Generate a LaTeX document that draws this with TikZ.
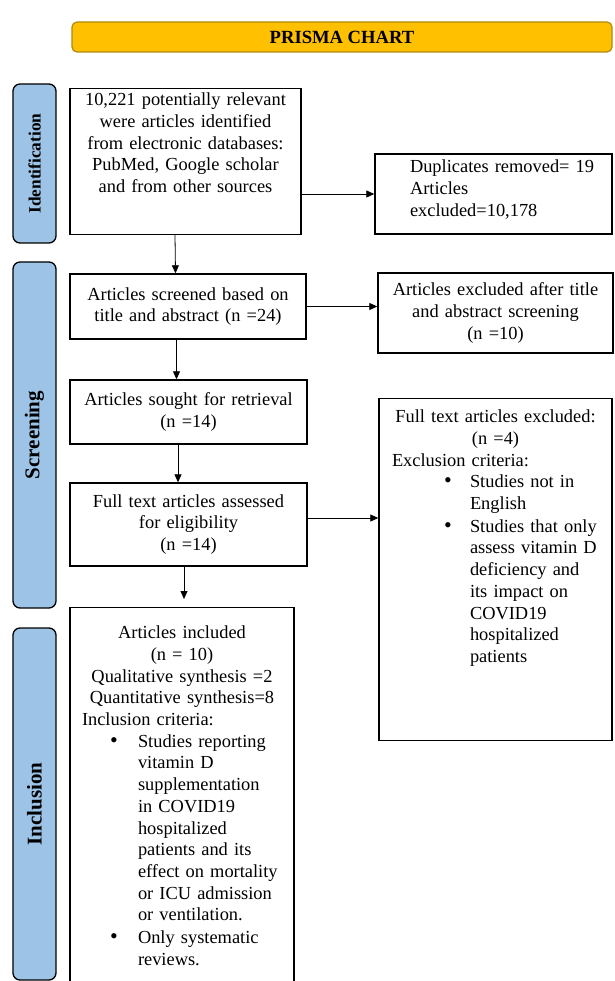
\documentclass[tikz,border=0pt]{standalone}
\usepackage{fontspec}
\setmainfont{Liberation Serif}
\usetikzlibrary{arrows.meta}
\definecolor{prismagold}{HTML}{FFC000}
\definecolor{prismaedge}{HTML}{B08A10}
\definecolor{stageblue}{HTML}{9DC3E6}
\newcommand{\bitem}[3]{\hspace*{#1}\makebox[#2][l]{\fontsize{22}{22}\selectfont\textbullet}\begin{tabular}[t]{@{}l@{}}#3\end{tabular}}

\begin{document}
\begin{tikzpicture}[x=1pt, y=-1pt,
	every node/.style={font=\fontsize{18.4}{21.7}\selectfont},
	stage/.style={draw=black, line width=1.3pt, fill=stageblue, rounded corners=7pt, rotate=90, minimum height=43pt, inner sep=0pt, font=\bfseries\fontsize{21}{24}\selectfont},
	flowbox/.style={draw=black, line width=1.4pt, align=center, inner xsep=4pt, inner ysep=3pt},
	arr/.style={-{Triangle[length=8pt,width=7pt]}, line width=0.8pt}]
	\useasboundingbox (0,0) rectangle (614,981);
	\node [draw=prismaedge, line width=1.2pt, fill=prismagold, rounded corners=5pt, minimum width=540pt, minimum height=30pt, font=\bfseries\fontsize{18.6}{22}\selectfont] (header) at (342,37) {PRISMA CHART};
	\node [stage, minimum width=159pt, font=\bfseries\fontsize{17.3}{20}\selectfont] (ident) at (34.5,163.5) {Identification};
	\node [stage, minimum width=346pt] (screen) at (34.5,435) {Screening};
	\node [stage, minimum width=352pt] (incl) at (34.5,804) {Inclusion};
	\node [flowbox, text width=223pt, anchor=north] (found) at (185.5,88) {\rule{0pt}{14pt}10,221 potentially relevant\\were articles identified\\from electronic databases:\\PubMed, Google scholar\\and from other sources\rule[-39pt]{0pt}{39pt}};
	\node [flowbox, align=left, text width=229pt, minimum height=80pt] (dupes) at (493.5,194) {\leftskip=31pt Duplicates removed= 19\\Articles\\excluded=10,178\rule[-12pt]{0pt}{12pt}\par};
	\node [flowbox, text width=228pt, minimum height=65pt] (screened) at (188,306.5) {Articles screened based on\\title and abstract (n =24)};
	\node [flowbox, text width=227pt, minimum height=80pt] (titleout) at (495.5,313) {Articles excluded after title\\and abstract screening\\(n =10)};
	\node [flowbox, text width=229pt, minimum height=64pt] (sought) at (188.5,412) {Articles sought for retrieval\\(n =14)};
	\node [flowbox, text width=229pt, minimum height=83pt] (assessed) at (188.5,524.5) {Full text articles assessed\\for eligibility\\(n =14)};
	\node [flowbox, align=left, text width=225pt, anchor=north] (fullout) at (495.5,398) {{\centering\rule{0pt}{21pt}Full text articles excluded:\\(n =4)\par}\hspace*{9pt}Exclusion criteria:\\\bitem{61pt}{26pt}{Studies not in\\English}\\\bitem{61pt}{26pt}{Studies that only\\assess vitamin D\\deficiency and\\its impact on\\COVID19\\hospitalized\\patients}\rule[-205pt]{0pt}{205pt}};
	\node [flowbox, align=left, text width=216pt, anchor=north] (included) at (182,607) {{\centering\rule{0pt}{28pt}Articles included\\(n = 10)\\Qualitative synthesis =2\\Quantitative synthesis=8\par}\hspace*{8pt}Inclusion criteria:\\\bitem{36pt}{28pt}{Studies reporting\\vitamin D\\supplementation\\in COVID19\\hospitalized\\patients and its\\effect on mortality\\or ICU admission\\or ventilation.}\\\bitem{36pt}{28pt}{Only systematic\\reviews.}\rule[-50pt]{0pt}{50pt}};
	\draw [arr] ([xshift=-10.5pt]found.south) -- ([xshift=-12.5pt]screened.north);
	\draw [arr] ([xshift=-11.5pt]screened.south) -- ([xshift=-12pt]sought.north);
	\draw [arr] ([xshift=-10.5pt]sought.south) -- ([xshift=-10.5pt]assessed.north);
	\draw [arr, shorten >=8pt] ([xshift=-4.5pt]assessed.south) -- ([xshift=2pt]included.north);
	\draw [arr] (found.east |- dupes.west) -- (dupes.west);
	\draw [arr] (screened.east) -- (screened.east -| titleout.west);
	\draw [arr] ([yshift=6.5pt]assessed.east) -- ([yshift=6.5pt]assessed.east -| fullout.west);
\end{tikzpicture}
\end{document}
